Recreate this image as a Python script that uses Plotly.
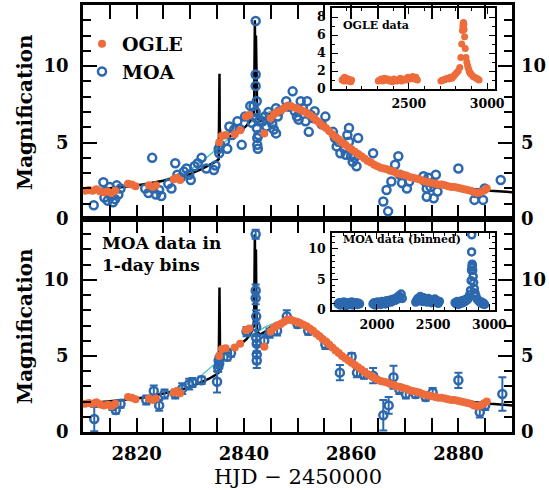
import plotly.graph_objects as go

# ---------------- data ----------------
# OGLE photometry (magnification) around the event
ogle_t = [2810.4, 2811.1, 2811.8, 2812.5, 2813.2, 2813.9, 2814.6, 2815.3, 2816.0,
          2818.4, 2819.1, 2819.8, 2822.3, 2823.0, 2823.6, 2826.9, 2827.5, 2828.1,
          2835.4, 2835.9, 2836.6, 2838.3, 2839.3, 2840.4, 2841.0, 2843.8,
          2845.0, 2845.6, 2846.2, 2846.9, 2847.5, 2848.1, 2848.7, 2849.3, 2849.9, 2850.5,
          2851.1, 2851.7, 2852.3, 2852.9, 2853.5, 2854.1, 2854.7, 2855.3, 2855.9, 2856.5,
          2857.1, 2857.7, 2858.3, 2858.9, 2859.5, 2860.1, 2860.7, 2861.3, 2861.9, 2862.5,
          2863.1, 2863.7, 2864.3, 2864.9, 2865.5, 2866.1, 2866.7, 2867.3, 2867.9, 2868.5,
          2869.1, 2869.7, 2870.3, 2870.9, 2871.5, 2872.1, 2872.7, 2873.3, 2873.9, 2874.5,
          2875.1, 2875.7, 2876.3, 2876.9, 2877.5, 2878.1, 2878.7, 2879.3, 2879.9, 2880.5,
          2881.1, 2881.7, 2882.3, 2882.9, 2883.5, 2884.1, 2884.7, 2885.3]
ogle_a = [1.85, 1.9, 1.85, 1.95, 1.8, 1.75, 1.8, 1.7, 1.85,
          2.3, 2.25, 2.15, 2.2, 2.1, 2.2, 2.6, 2.7, 2.55,
          5.0, 5.45, 5.5, 5.55, 5.8, 6.7, 6.8, 5.6,
          6.6, 6.85, 7.0, 7.1, 7.25, 7.4, 7.4, 7.3, 7.25, 7.15,
          7.05, 6.95, 6.8, 6.65, 6.45, 6.3, 6.1, 5.95, 5.75, 5.55,
          5.35, 5.2, 5.0, 4.85, 4.7, 4.55, 4.4, 4.25, 4.1, 3.95,
          3.8, 3.7, 3.55, 3.45, 3.35, 3.3, 3.25, 3.15, 3.1, 3.0,
          2.95, 2.9, 2.85, 2.75, 2.7, 2.65, 2.6, 2.5, 2.45, 2.4,
          2.35, 2.3, 2.25, 2.25, 2.2, 2.15, 2.1, 2.1, 2.05, 2.0,
          1.95, 1.9, 1.85, 1.75, 1.7, 1.75, 1.85, 2.0]
ogle_err = 0.12

# MOA raw photometry (top panel)
moa_t = [2812.0, 2813.8, 2814.0, 2814.3, 2814.6, 2815.0, 2815.3, 2815.6, 2816.0, 2816.3, 2816.6, 2817.0,
         2821.6, 2822.2, 2822.9, 2823.0, 2823.6, 2824.2, 2824.6,
         2825.9, 2826.5, 2827.2, 2827.6, 2828.2, 2828.8, 2829.3, 2829.8, 2830.1, 2830.8, 2831.4, 2832.1, 2833.0, 2834.4, 2834.7,
         2835.3, 2835.4, 2835.6, 2836.5, 2836.9, 2837.3, 2837.8, 2838.2, 2838.8, 2839.2, 2839.6, 2840.2,
         2841.2, 2841.5, 2841.8, 2842.2, 2842.2, 2842.2, 2842.2, 2842.3, 2842.4, 2842.5, 2842.5, 2842.6, 2842.7, 2842.8, 2842.4,
         2843.5, 2843.9, 2844.2, 2844.6, 2844.9, 2845.3, 2845.6, 2846.0, 2846.3, 2846.6, 2846.0,
         2847.9, 2848.3, 2849.1, 2849.5, 2849.9, 2850.2, 2850.6, 2851.0, 2851.5, 2851.8, 2852.1, 2852.5, 2852.8, 2853.2,
         2854.5, 2855.2,
         2856.6, 2857.0, 2857.3, 2857.6, 2858.0, 2858.7, 2859.0, 2859.3, 2859.6, 2859.6, 2860.0, 2860.3, 2860.6, 2861.0, 2861.3,
         2864.1, 2866.0, 2866.6, 2866.9, 2867.5, 2868.2, 2868.8, 2869.1, 2869.5, 2870.4, 2870.8,
         2873.5, 2873.8, 2874.1, 2874.1, 2874.4, 2874.8, 2875.1, 2875.4, 2875.8, 2876.1,
         2880.0, 2883.0, 2883.3, 2884.6, 2884.9, 2887.9]
moa_a = [0.9, 2.4, 1.4, 1.8, 1.2, 2.1, 1.5, 1.1, 1.3, 2.2, 1.6, 2.0,
         2.0, 1.7, 4.0, 2.0, 1.6, 1.9, 1.5,
         2.3, 2.0, 3.65, 2.9, 2.7, 3.1, 3.3, 2.9, 2.55, 3.45, 3.65, 4.0, 3.3, 3.2, 3.5,
         4.6, 4.3, 4.85, 5.1, 4.6, 6.05, 5.5, 5.85, 6.4, 5.9, 4.85, 6.7,
         7.4, 6.3, 7.4, 12.95, 9.45, 8.7, 7.0, 6.6, 5.95, 5.3, 4.85, 4.6, 5.5, 6.4, 7.7,
         6.4, 6.7, 6.05, 7.0, 6.5, 6.2, 5.85, 7.25, 6.7, 7.05, 5.6,
         7.7, 7.35, 8.35, 7.05, 6.7, 6.5, 7.7, 7.25, 6.4, 7.7, 5.7, 6.8, 6.6, 7.05,
         6.2, 6.7,
         5.7, 5.3, 4.75, 5.05, 4.3, 4.6, 4.2, 5.5, 5.95, 5.05, 4.1, 3.75, 4.0, 3.45, 5.3,
         4.3, 1.15, 1.9, 0.5, 2.45, 3.55, 4.1, 2.9, 2.35, 2.0, 2.45,
         2.8, 2.45, 2.0, 1.45, 2.7, 2.1, 2.35, 1.35, 2.9, 1.8,
         3.3, 1.25, 1.7, 1.25, 2.0, 2.55]

# MOA data in 1-day bins (bottom panel)
moabin_t = [2812.1, 2815.5, 2816.1, 2817.0, 2821.8, 2823.2, 2824.2, 2825.2, 2827.2, 2828.5, 2829.8, 2830.4,
            2832.1, 2835.0, 2835.2, 2835.3, 2835.4, 2835.5, 2836.9, 2837.6, 2840.5,
            2842.2, 2842.2, 2842.2, 2842.3, 2842.3, 2842.3, 2842.4, 2842.4, 2842.4,
            2843.8, 2844.8, 2846.2, 2848.0, 2850.0, 2852.0, 2855.2, 2857.9, 2860.1, 2861.1, 2862.4,
            2864.1, 2866.0, 2867.0, 2867.9, 2869.0, 2870.2, 2872.0, 2873.9, 2875.2, 2880.0, 2884.0, 2885.0, 2888.2]
moabin_a = [0.85, 1.7, 1.45, 1.85, 2.1, 2.7, 1.75, 2.5, 2.5, 2.85, 3.15, 3.25,
            3.4, 3.3, 4.25, 4.7, 4.5, 4.85, 4.95, 5.2, 6.6,
            13.0, 9.3, 8.8, 7.6, 6.9, 6.2, 5.8, 5.1, 4.7,
            6.0, 6.5, 6.65, 7.6, 7.1, 6.65, 5.75, 3.9, 4.95, 3.9, 3.8,
            3.7, 1.1, 1.75, 3.6, 2.8, 2.5, 2.5, 2.3, 2.6, 3.4, 1.3, 1.75, 2.5]
moabin_e = [0.8, 0.25, 0.25, 0.25, 0.3, 0.35, 0.35, 0.3, 0.3, 0.35, 0.35, 0.3,
            0.25, 0.7, 0.3, 0.3, 0.3, 0.3, 0.25, 0.25, 0.3,
            0.3, 0.4, 0.4, 0.4, 0.5, 0.5, 0.5, 0.6, 0.5,
            0.4, 0.3, 0.3, 0.4, 0.25, 0.25, 0.3, 0.5, 0.25, 0.3, 0.3,
            0.5, 1.0, 0.55, 0.75, 0.3, 0.3, 0.25, 0.25, 0.3, 0.5, 0.35, 0.3, 1.1]

# best-fit binary-lens model (black) with caustic crossings
model_t = [2810, 2813, 2816, 2819, 2822, 2825, 2828, 2830, 2832, 2833.5, 2834.5, 2835.3,
           2835.45, 2835.5, 2835.55, 2835.7, 2836.5, 2838, 2839.5, 2840.5, 2841.3, 2841.9,
           2842.05, 2842.15, 2842.25, 2842.35, 2842.5, 2843, 2844, 2845, 2846, 2847, 2848, 2849,
           2850, 2851, 2852, 2854, 2856, 2858, 2860, 2862, 2864, 2866, 2868, 2870, 2872, 2874,
           2876, 2878, 2880, 2883, 2886, 2890]
model_a = [1.85, 1.95, 2.05, 2.15, 2.3, 2.5, 2.75, 2.95, 3.25, 3.5, 3.7, 3.9,
           9.5, 6.0, 5.5, 5.3, 5.3, 5.5, 5.8, 6.1, 6.5, 7.0,
           13.0, 8.5, 12.0, 7.5, 6.6, 6.4, 6.6, 6.9, 7.1, 7.3, 7.4, 7.45,
           7.35, 7.2, 7.0, 6.5, 5.9, 5.2, 4.6, 4.1, 3.7, 3.4, 3.1, 2.9, 2.7, 2.5,
           2.35, 2.2, 2.1, 1.95, 1.85, 1.75]

# alternative smooth model (teal)
alt_t = [2822, 2825, 2828, 2830, 2832, 2834, 2836, 2838, 2840, 2842, 2844, 2846, 2848, 2850]
alt_a = [2.3, 2.55, 2.9, 3.25, 3.7, 4.3, 4.9, 5.5, 6.0, 6.5, 6.9, 7.2, 7.4, 7.35]

# full OGLE light curve (inset, top)
oglefull_t = [2075, 2080, 2085, 2090, 2095, 2100, 2105, 2110, 2115, 2120, 2125, 2130, 2135,
              2305, 2315, 2325, 2335, 2345, 2355, 2365, 2375, 2385, 2395, 2405, 2415, 2425,
              2435, 2445, 2455, 2465, 2475, 2485, 2495, 2505, 2515, 2525, 2535, 2545, 2555,
              2705, 2715, 2725, 2735, 2745, 2755, 2765, 2775, 2785, 2795, 2805, 2815, 2825,
              2832, 2838, 2842, 2845, 2847, 2849, 2851, 2853, 2856, 2860, 2865, 2870, 2875,
              2880, 2885, 2890, 2895, 2900, 2910, 2920, 2930, 2940, 2948]
oglefull_a = [1.0, 1.1, 0.9, 1.3, 1.0, 1.2, 0.9, 1.0, 1.1, 0.9, 1.0, 0.8, 1.0,
              0.9, 1.0, 1.1, 0.9, 1.2, 1.0, 1.1, 0.9, 1.0, 0.8, 1.1, 1.0, 0.9,
              1.0, 1.2, 0.9, 1.0, 1.1, 1.0, 1.3, 1.1, 1.2, 1.4, 1.1, 1.3, 1.0,
              0.9, 1.0, 1.0, 1.1, 1.2, 1.1, 1.3, 1.2, 1.4, 1.6, 1.8, 2.0, 2.4,
              3.5, 5.0, 6.5, 7.0, 7.3, 7.4, 7.2, 6.6, 5.8, 4.5, 3.5, 3.0, 2.6,
              2.3, 2.0, 1.8, 1.7, 1.6, 1.4, 1.3, 1.2, 1.1, 1.0]

# full binned MOA light curve (inset, bottom)
moafull_t = [1655, 1665, 1675, 1685, 1695, 1705, 1715, 1725, 1735, 1745, 1755, 1765, 1775, 1785,
             1795, 1805, 1815, 1825, 1835, 1845,
             1965, 1975, 1985, 1995, 2005, 2015, 2025, 2035, 2045, 2055, 2065, 2075, 2085, 2095,
             2105, 2115, 2125, 2135, 2145, 2155, 2165, 2175, 2185, 2195, 2205, 2215, 2225,
             2345, 2355, 2365, 2375, 2385, 2395, 2405, 2415, 2425, 2435, 2445, 2455, 2465, 2475,
             2485, 2495, 2505, 2515, 2525, 2535, 2545, 2555,
             2695, 2705, 2715, 2725, 2735, 2745, 2755, 2765, 2775, 2785, 2795, 2805, 2815, 2825,
             2832, 2838, 2841, 2842, 2843, 2845, 2847, 2849, 2852, 2856, 2860, 2866, 2872, 2880,
             2890, 2900, 2910, 2920, 2930, 2940, 2950, 2958]
moafull_a = [1.0, 1.2, 0.8, 1.1, 0.9, 1.3, 1.0, 0.7, 1.1, 1.2, 0.9, 1.0, 1.3, 0.8,
             1.1, 1.0, 1.2, 0.9, 1.1, 1.0,
             1.0, 1.2, 0.8, 1.1, 1.3, 1.0, 1.2, 0.9, 1.4, 1.1, 1.3, 1.0, 1.5, 1.2,
             1.4, 1.6, 1.3, 1.7, 1.5, 1.8, 1.6, 2.0, 1.8, 2.3, 2.0, 2.6, 1.9,
             1.3, 1.6, 1.9, 1.5, 2.2, 1.7, 1.4, 2.0, 1.6, 1.8, 1.3, 1.9, 1.5, 1.7,
             1.2, 1.6, 1.4, 1.8, 1.3, 1.5, 1.1, 1.4,
             1.2, 1.0, 1.4, 0.9, 1.3, 1.1, 1.5, 1.2, 1.6, 1.4, 1.8, 1.7, 2.0, 2.5,
             3.2, 4.8, 6.5, 9.5, 12.3, 7.0, 7.5, 7.2, 6.5, 5.5, 4.5, 3.5, 2.8, 2.3,
             1.8, 1.6, 1.4, 1.2, 1.3, 1.0, 1.1, 0.9]

assert len(ogle_t) == len(ogle_a)
assert len(moa_t) == len(moa_a)
assert len(moabin_t) == len(moabin_a) == len(moabin_e)
assert len(model_t) == len(model_a)
assert len(oglefull_t) == len(oglefull_a)
assert len(moafull_t) == len(moafull_a)

# ---------------- styling ----------------
ORANGE = "#EE6B3B"
BLUE = "#2C68AE"
TEAL = "#5CC8B8"
FONT = "DejaVu Serif"

W, H = 549, 490
L, R, T, B = 83, 37, 5, 58
PW, PH = W - L - R, H - T - B


def px_x(p):
    return (p - L) / PW


def px_y(p):
    return (H - B - p) / PH


mid = px_y(219)

fig = go.Figure()

panels = [("x2", "y3", "top"), ("x", "y", "bottom")]
for xa, ya, which in panels:
    fig.add_trace(go.Scatter(x=alt_t, y=alt_a, mode="lines", xaxis=xa, yaxis=ya,
                             line=dict(color=TEAL, width=1.5), showlegend=False, hoverinfo="skip"))
    fig.add_trace(go.Scatter(x=model_t, y=model_a, mode="lines", xaxis=xa, yaxis=ya,
                             line=dict(color="black", width=2.5), showlegend=False, hoverinfo="skip"))
    if which == "top":
        fig.add_trace(go.Scatter(x=moa_t, y=moa_a, mode="markers", xaxis=xa, yaxis=ya, name="MOA",
                                 marker=dict(symbol="circle-open", size=8, color=BLUE, line=dict(width=2.5)),
                                 showlegend=True, legendrank=2))
    else:
        fig.add_trace(go.Scatter(x=moabin_t, y=moabin_a, mode="markers", xaxis=xa, yaxis=ya,
                                 marker=dict(symbol="circle-open", size=8, color=BLUE, line=dict(width=2.5)),
                                 error_y=dict(type="data", array=moabin_e, color=BLUE, thickness=2, width=4),
                                 showlegend=False))
    fig.add_trace(go.Scatter(x=ogle_t, y=ogle_a, mode="markers", xaxis=xa, yaxis=ya, name="OGLE",
                             marker=dict(symbol="circle", size=8, color=ORANGE),
                             error_y=dict(type="constant", value=ogle_err, color=ORANGE, thickness=1.5, width=3),
                             showlegend=(which == "top"), legendrank=1))

# empty traces so the right-hand label axes exist
fig.add_trace(go.Scatter(x=[], y=[], xaxis="x", yaxis="y2", showlegend=False))
fig.add_trace(go.Scatter(x=[], y=[], xaxis="x2", yaxis="y4", showlegend=False))

# insets
fig.add_trace(go.Scatter(x=oglefull_t, y=oglefull_a, mode="markers", xaxis="x3", yaxis="y5",
                         marker=dict(symbol="circle", size=7, color=ORANGE), showlegend=False))
fig.add_trace(go.Scatter(x=moafull_t, y=moafull_a, mode="markers", xaxis="x4", yaxis="y6",
                         marker=dict(symbol="circle-open", size=7, color=BLUE, line=dict(width=2.5)),
                         showlegend=False))

tickfont_main = dict(family=FONT, size=18, color="black", weight="bold")
tickfont_in = dict(family=FONT, size=12.5, color="black", weight="bold")


def main_x(anchor, labels):
    return dict(domain=[0, 1], anchor=anchor, range=[2810, 2890], tick0=2800, dtick=20,
                showline=True, linecolor="black", linewidth=2.5, mirror="allticks",
                ticks="inside", ticklen=14, tickwidth=2, tickcolor="black",
                minor=dict(dtick=5, tick0=2800, ticks="inside", ticklen=8, tickwidth=2, tickcolor="black"),
                showgrid=False, zeroline=False, showticklabels=labels, automargin=False,
                tickfont=tickfont_main, ticklabelstandoff=4)


def main_y(anchor, dom):
    return dict(domain=dom, anchor=anchor, range=[0, 14], tick0=0, dtick=5,
                showline=True, linecolor="black", linewidth=2.5, mirror="allticks",
                ticks="inside", ticklen=14, tickwidth=2, tickcolor="black",
                minor=dict(dtick=1, tick0=0, ticks="inside", ticklen=8, tickwidth=2, tickcolor="black"),
                showgrid=False, zeroline=False, automargin=False,
                tickfont=tickfont_main, ticklabelstandoff=8)


def right_y(over, anchor):
    return dict(overlaying=over, anchor=anchor, side="right", range=[0, 14], tick0=0, dtick=5,
                showline=False, ticks="", showgrid=False, zeroline=False, automargin=False,
                tickfont=tickfont_main, ticklabelstandoff=8)


def inset_axis(dom, anchor, rng, dtick, mdtick, labels=True):
    return dict(domain=dom, anchor=anchor, range=rng, tick0=0, dtick=dtick,
                showline=True, linecolor="black", linewidth=1.5, mirror="allticks",
                ticks="inside", ticklen=6, tickwidth=1.2, tickcolor="black",
                minor=dict(dtick=mdtick, tick0=0, ticks="inside", ticklen=3, tickwidth=1, tickcolor="black"),
                showgrid=False, zeroline=False, showticklabels=labels, automargin=False,
                tickfont=tickfont_in, ticklabelstandoff=2)


fig.update_layout(
    width=W, height=H, margin=dict(l=L, r=R, t=T, b=B, autoexpand=False),
    paper_bgcolor="white", plot_bgcolor="rgba(0,0,0,0)",
    font=dict(family=FONT, color="black"),
    xaxis=main_x("y", True),
    yaxis=main_y("x", [0, mid]),
    yaxis2=right_y("y", "x"),
    xaxis2=main_x("y3", False),
    yaxis3=main_y("x2", [mid, 1]),
    yaxis4=right_y("y3", "x2"),
    xaxis3=inset_axis([px_x(332), px_x(495)], "y5", [2010, 3050], 500, 100),
    yaxis5=inset_axis([px_y(89), px_y(8)], "x3", [0, 9], 2, 1),
    xaxis4=inset_axis([px_x(332), px_x(495)], "y6", [1600, 3050], 500, 100),
    yaxis6=inset_axis([px_y(310), px_y(233)], "x4", [0, 12.6], 5, 1),
    legend=dict(x=px_x(82), y=px_y(25), xanchor="left", yanchor="top",
                font=dict(family=FONT, size=19, weight="bold", color="black"),
                bgcolor="rgba(0,0,0,0)", itemwidth=30, tracegroupgap=0, traceorder="normal"),
    showlegend=True,
)

ann_common = dict(xref="paper", yref="paper", showarrow=False)
fig.add_annotation(text="<b>Magnification</b>", x=px_x(25), y=px_y(112), textangle=-90,
                   xanchor="center", yanchor="middle", font=dict(family=FONT, size=20), **ann_common)
fig.add_annotation(text="<b>Magnification</b>", x=px_x(25), y=px_y(326), textangle=-90,
                   xanchor="center", yanchor="middle", font=dict(family=FONT, size=20), **ann_common)
fig.add_annotation(text="HJD − 2450000", x=0.5, y=px_y(477), xanchor="center", yanchor="middle",
                   font=dict(family=FONT, size=21), **ann_common)
fig.add_annotation(text="<b>MOA data in<br>1-day bins</b>", x=px_x(100), y=px_y(231), xanchor="left",
                   yanchor="top", align="left", font=dict(family=FONT, size=17), **ann_common)
fig.add_annotation(text="<b>OGLE data</b>", x=px_x(341), y=px_y(25), xanchor="left", yanchor="middle",
                   font=dict(family=FONT, size=11), **ann_common)
fig.add_annotation(text="<b>MOA data (binned)</b>", x=px_x(341), y=px_y(240), xanchor="left",
                   yanchor="middle", font=dict(family=FONT, size=11), **ann_common)

fig.write_html("out.html", config={"displayModeBar": False},
               post_script="document.body.style.margin='0px';document.body.style.padding='0px';")
